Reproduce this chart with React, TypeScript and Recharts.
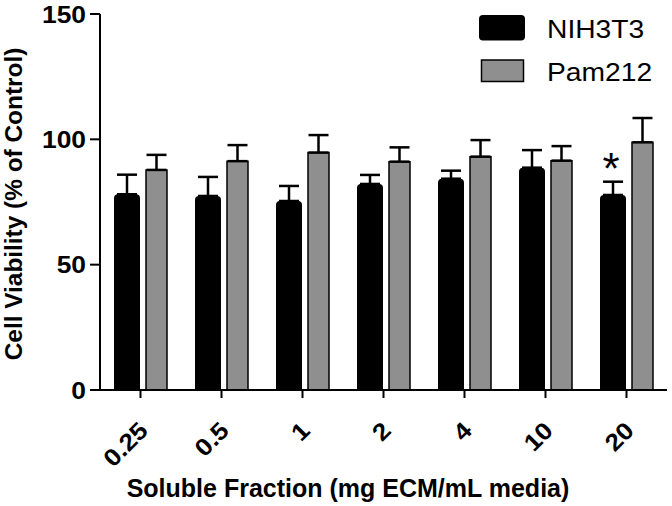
import { BarChart, Bar, XAxis, YAxis, ErrorBar, LabelList, Customized } from 'recharts'

// values (% of control)
const concentrations = ['0.25', '0.5', '1', '2', '4', '10', '20']
const nih3t3 = [78.1, 77.4, 75.4, 82.2, 84.3, 88.7, 77.8]
const nih3t3Err = [7.8, 7.6, 6.0, 3.6, 3.2, 7.0, 5.3]
const pam212 = [87.8, 91.3, 94.7, 91.1, 93.1, 91.5, 98.8]
const pam212Err = [6.0, 6.4, 7.0, 5.7, 6.6, 5.8, 9.7]
const significance = ['', '', '', '', '', '', '*']
const seriesNames = ['NIH3T3', 'Pam212']
const yTicks = [0, 50, 100, 150]

const FONT = '"Liberation Sans", Arial, sans-serif'
const GRAY = '#8f8f8f'

const data = concentrations.map((conc, i) => ({
  conc,
  nih: nih3t3[i],
  nihErr: [0, nih3t3Err[i]],
  pam: pam212[i],
  pamErr: [0, pam212Err[i]],
  sig: significance[i],
}))

function YTick({ y, payload }: any) {
  return (
    <g transform={`translate(86, ${y}) scale(1.1, 1)`}>
      <text x={0} y={8.7} textAnchor="end" fontFamily={FONT} fontWeight="bold" fontSize={24} fill="#000">
        {payload.value}
      </text>
    </g>
  )
}

function XTick({ x, payload }: any) {
  return (
    <g transform={`translate(${x + 9}, 432) rotate(-45) scale(1.1, 1)`}>
      <text x={0} y={0} textAnchor="end" fontFamily={FONT} fontWeight="bold" fontSize={24} fill="#000">
        {payload.value}
      </text>
    </g>
  )
}

function Extras() {
  return (
    <g fontFamily={FONT}>
      <text
        x={22}
        y={204}
        transform="rotate(-90, 22, 204)"
        textAnchor="middle"
        fontWeight="bold"
        fontSize={24.4}
        fill="#000"
      >
        Cell Viability (% of Control)
      </text>
      <text x={348} y={497} textAnchor="middle" fontWeight="bold" fontSize={25} fill="#000">
        Soluble Fraction (mg ECM/mL media)
      </text>
      {/* legend */}
      <rect x={479} y={15} width={46} height={25.5} rx={4} fill="#000" />
      <rect x={481.5} y={60} width={42} height={21.5} fill={GRAY} stroke="#000" strokeWidth={1.5} />
      <g transform="translate(547, 38) scale(1.13, 1)">
        <text x={0} y={0} fontSize={25} fill="#000">{seriesNames[0]}</text>
      </g>
      <g transform="translate(547, 81) scale(1.13, 1)">
        <text x={0} y={0} fontSize={25} fill="#000">{seriesNames[1]}</text>
      </g>
    </g>
  )
}

function SigLabel({ x, y, width, value }: any) {
  if (!value) return null
  return (
    <text x={x + width / 2 - 2} y={y - 11} textAnchor="middle" fontFamily={FONT} fontSize={44} fill="#000">
      {value}
    </text>
  )
}

export default function App() {
  return (
    <div style={{ position: 'absolute', left: 0, top: 0, background: '#fff' }}>
      <BarChart
        width={672}
        height={506}
        data={data}
        margin={{ top: 14, right: 5, left: 0, bottom: 0 }}
        barGap={6}
        barCategoryGap={14}
      >
        <XAxis
          dataKey="conc"
          height={116}
          interval={0}
          tickSize={8}
          axisLine={{ stroke: '#000', strokeWidth: 2 }}
          tickLine={{ stroke: '#000', strokeWidth: 2 }}
          tick={XTick}
        />
        <YAxis
          width={100}
          domain={[0, 150]}
          ticks={yTicks}
          tickSize={10}
          axisLine={{ stroke: '#000', strokeWidth: 2 }}
          tickLine={{ stroke: '#000', strokeWidth: 2 }}
          tick={YTick}
        />
        <Bar dataKey="nih" name={seriesNames[0]} fill="#000" barSize={26} radius={[4, 4, 0, 0]} isAnimationActive={false}>
          <ErrorBar dataKey="nihErr" width={10} strokeWidth={2.5} stroke="#000" direction="y" />
          <LabelList dataKey="sig" content={SigLabel} />
        </Bar>
        <Bar dataKey="pam" name={seriesNames[1]} fill={GRAY} stroke="#000" strokeWidth={1.5} barSize={21} isAnimationActive={false}>
          <ErrorBar dataKey="pamErr" width={10} strokeWidth={2.5} stroke="#000" direction="y" />
        </Bar>
        <Customized component={Extras} />
      </BarChart>
    </div>
  )
}
